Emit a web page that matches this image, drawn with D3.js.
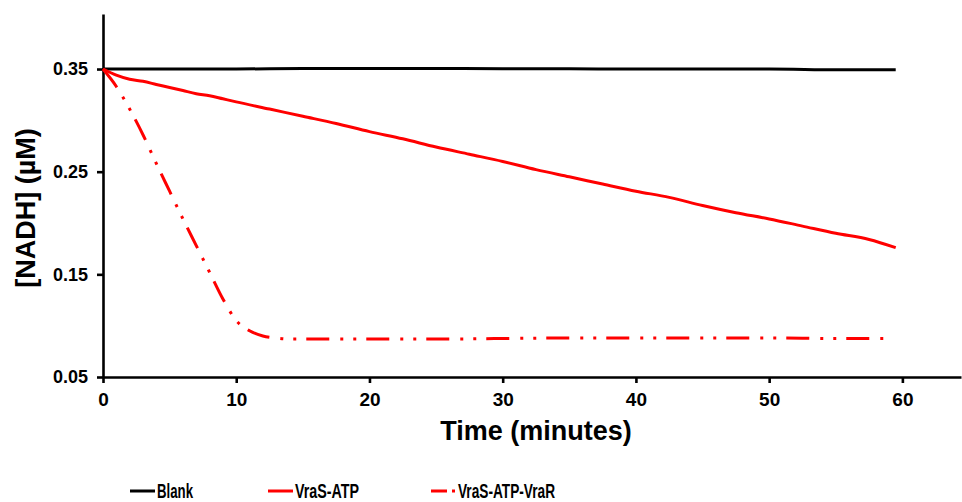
<!DOCTYPE html>
<html>
<head>
<meta charset="utf-8">
<script src="https://cdn.jsdelivr.net/npm/d3@7"></script>
<style>
  html, body { margin: 0; padding: 0; background: #fff; }
  svg { display: block; }
  .axis path, .axis line { stroke: #000; stroke-width: 2.6px; }
  .axis text { font-family: Arial, "Liberation Sans", sans-serif; font-weight: bold; fill: #000; }
</style>
</head>
<body>
<div id="chart"></div>
<script>
// ============================================================
// DATA
// ============================================================
const blankTime   = [0, 5, 10, 15, 20, 25, 30, 35, 40, 45, 50, 55, 59.5];
const blankValues = [0.350, 0.350, 0.350, 0.3505, 0.3505, 0.3505, 0.3503, 0.3502, 0.350, 0.350, 0.350, 0.3493, 0.3492];

const atpTime   = [0, 1, 2, 3, 4, 5, 6, 7, 8, 9, 10, 12.5, 15, 17.5, 20, 22.5, 25, 27.5, 30,
                   32.5, 35, 37.5, 40, 42.5, 45, 47.5, 50, 52.5, 55, 57.5, 59.5];
const atpValues = [0.350, 0.344, 0.340, 0.338, 0.335, 0.332, 0.329, 0.326, 0.324, 0.321, 0.318,
                   0.311, 0.304, 0.297, 0.289, 0.282, 0.274, 0.267, 0.260, 0.252, 0.245, 0.238,
                   0.231, 0.225, 0.217, 0.210, 0.204, 0.197, 0.190, 0.184, 0.176];

const vraRTime   = [0, 1, 2, 3, 4, 5, 6, 7, 8, 9, 10, 11, 12, 13, 14, 16, 20, 25, 30, 35, 40, 45, 50, 55, 59];
const vraRValues = [0.350, 0.333, 0.311, 0.286, 0.258, 0.231, 0.204, 0.178, 0.152, 0.126, 0.105,
                    0.095, 0.090, 0.088, 0.087, 0.087, 0.087, 0.087, 0.0875, 0.088, 0.088, 0.088,
                    0.088, 0.0875, 0.0875];

const xTicks = [0, 10, 20, 30, 40, 50, 60];
const yTicks = [0.05, 0.15, 0.25, 0.35];

const seriesNames = ["Blank", "VraS-ATP", "VraS-ATP-VraR"];

// ============================================================
// SVG + SCALES
// ============================================================
const W = 962, H = 502;
const svg = d3.select("#chart").append("svg")
  .attr("width", W).attr("height", H);

const x = d3.scaleLinear().domain([0, 64.4]).range([103, 961]);
const y = d3.scaleLinear().domain([0.05, 0.4036]).range([377, 14]);

// ============================================================
// AXES
// ============================================================
const xAxis = svg.append("g").attr("class", "axis")
  .attr("transform", `translate(0,${y(0.05)})`)
  .call(d3.axisBottom(x).tickValues(xTicks).tickFormat(d3.format("d"))
    .tickSize(6).tickSizeOuter(0).tickPadding(10));
xAxis.selectAll("text").style("font-size", "19px");

const yAxis = svg.append("g").attr("class", "axis")
  .attr("transform", `translate(${x(0)},0)`)
  .call(d3.axisLeft(y).tickValues(yTicks).tickFormat(d3.format(".2f"))
    .tickSize(6).tickSizeOuter(0).tickPadding(9));
yAxis.selectAll("text").style("font-size", "18px");

// axis titles
svg.append("text")
  .attr("x", 536).attr("y", 440)
  .attr("text-anchor", "middle")
  .style("font-family", "Arial, 'Liberation Sans', sans-serif")
  .style("font-weight", "bold").style("font-size", "27px")
  .text("Time (minutes)");

svg.append("text")
  .attr("transform", "translate(35,208) rotate(-90)")
  .attr("text-anchor", "middle")
  .style("font-family", "Arial, 'Liberation Sans', sans-serif")
  .style("font-weight", "bold").style("font-size", "27px")
  .text("[NADH] (µM)");

// ============================================================
// LINES
// ============================================================
const line = d3.line()
  .x(d => x(d[0])).y(d => y(d[1]))
  .curve(d3.curveMonotoneX);

const series = [
  { pts: d3.zip(blankTime, blankValues), color: "#000000", dash: null },
  { pts: d3.zip(atpTime, atpValues), color: "#ff0000", dash: null },
  { pts: d3.zip(vraRTime, vraRValues), color: "#ff0000", dash: "23 11 3 10 3 10" }
];

svg.selectAll("path.series").data(series).join("path")
  .attr("class", "series")
  .attr("d", d => line(d.pts))
  .attr("fill", "none")
  .attr("stroke", d => d.color)
  .attr("stroke-width", 3)
  .attr("stroke-dasharray", d => d.dash);

// ============================================================
// LEGEND
// ============================================================
const legendItems = [
  { name: seriesNames[0], color: "#000000", dash: null, x0: 130, x1: 155, tx: 157, tw: 36 },
  { name: seriesNames[1], color: "#ff0000", dash: null, x0: 268, x1: 293, tx: 295, tw: 64 },
  { name: seriesNames[2], color: "#ff0000", dash: "16 5 3 40", x0: 431, x1: 455, tx: 458, tw: 97 }
];

const lg = svg.selectAll("g.legend").data(legendItems).join("g").attr("class", "legend");

lg.append("line")
  .attr("x1", d => d.x0).attr("x2", d => d.x1)
  .attr("y1", 491).attr("y2", 491)
  .attr("stroke", d => d.color).attr("stroke-width", 3)
  .attr("stroke-dasharray", d => d.dash);

lg.append("text")
  .attr("x", d => d.tx).attr("y", 498)
  .attr("textLength", d => d.tw)
  .attr("lengthAdjust", "spacingAndGlyphs")
  .style("font-family", "'Liberation Sans Narrow', Arial, sans-serif")
  .style("font-weight", "bold").style("font-size", "21px")
  .text(d => d.name);
</script>
</body>
</html>
